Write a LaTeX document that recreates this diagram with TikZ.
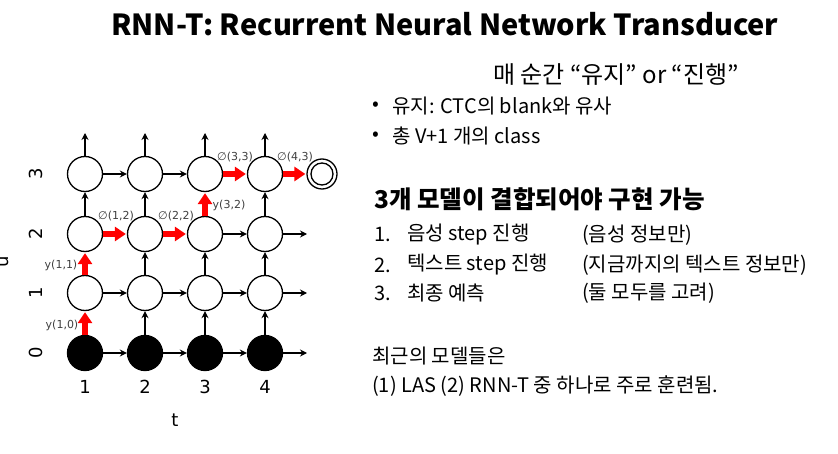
\documentclass[tikz,border=0pt]{standalone}
\usepackage{fontspec}
\setmainfont{Noto Sans CJK KR}
\newfontfamily\dv{DejaVu Sans}
\usetikzlibrary{arrows.meta}
\tikzset{
  cell/.style={circle,draw=black,line width=1.3pt,minimum size=35pt,inner sep=0pt,fill=white},
  blk/.style={cell,fill=black},
  harr/.style={-{Stealth[length=7pt,width=7pt]},line width=1.5pt,black},
  rarr/.style={-{Triangle[length=11pt,width=14pt]},line width=6.5pt,red,shorten >=1pt},
  lab/.style={font=\dv\fontsize{11}{13}\selectfont,text=black!75,inner sep=1pt},
  tick/.style={font=\dv\fontsize{18}{20}\selectfont},
  body/.style={anchor=west,inner sep=0pt,font=\fontsize{20}{24}\selectfont},
}
\begin{document}
\begin{tikzpicture}[x=1pt,y=-1pt]
\useasboundingbox[fill=white] (0,0) rectangle (838,454);
% title
\node[anchor=west,inner sep=0pt,font=\bfseries\fontsize{29}{34}\selectfont] (title) at (111,24) {RNN-T: Recurrent Neural Network Transducer};
% grid nodes
\foreach \c/\x in {1/85,2/145,3/205,4/265}{
  \node[blk] (n\c0) at (\x,353) {};
  \node[cell] (n\c1) at (\x,293) {};
  \node[cell] (n\c2) at (\x,234) {};
  \node[cell] (n\c3) at (\x,174) {};
  \coordinate (top\c) at (\x,133);
  \node[tick] (tk\c) at (\x,387) {\c};
}
\node[circle,draw,line width=1.3pt,minimum size=30pt,inner sep=0pt] (fin) at (322,174) {};
\node[circle,draw,line width=1.3pt,minimum size=22pt,inner sep=0pt] (fini) at (322,174) {};
\foreach \r/\y in {0/353,1/293,2/234}{\coordinate (out\r) at (307,\y);}
% row labels
\foreach \r/\y in {0/353,1/293,2/234,3/174}{\node[tick,rotate=90] (rl\r) at (36,\y) {\r};}
\node[tick,rotate=90] (ulab) at (4,262) {u};
\node[tick] (tlab) at (175,420) {t};
% vertical arrows
\draw[rarr] (n10) -- (n11);
\draw[rarr] (n11) -- (n12);
\draw[harr] (n12) -- (n13);
\draw[rarr] (n32) -- (n33);
\foreach \c in {2,3,4}{\draw[harr] (n\c0) -- (n\c1);\draw[harr] (n\c1) -- (n\c2);}
\draw[harr] (n22) -- (n23);
\draw[harr] (n42) -- (n43);
\foreach \c in {1,2,3,4}{\draw[harr] (n\c3) -- (top\c);}
% horizontal arrows
\foreach \r in {0,1}{
  \draw[harr] (n1\r) -- (n2\r); \draw[harr] (n2\r) -- (n3\r); \draw[harr] (n3\r) -- (n4\r); \draw[harr] (n4\r) -- (out\r);
}
\draw[rarr] (n12) -- (n22);
\draw[rarr] (n22) -- (n32);
\draw[harr] (n32) -- (n42);
\draw[harr] (n42) -- (out2);
\draw[harr] (n13) -- (n23);
\draw[harr] (n23) -- (n33);
\draw[rarr] (n33) -- (n43);
\draw[rarr] (n43) -- (fin);
% edge labels
\node[lab] (l10) at (62,325) {y(1,0)};
\node[lab] (l11) at (61,265) {y(1,1)};
\node[lab] (l12) at (116,216) {∅(1,2)};
\node[lab] (l22) at (176,216) {∅(2,2)};
\node[lab] (l32) at (229,205) {y(3,2)};
\node[lab] (l33) at (235,157) {∅(3,3)};
\node[lab] (l43) at (295,157) {∅(4,3)};
% right text
\node[anchor=west,inner sep=0pt,font=\fontsize{24}{28}\selectfont] (t1) at (493,75) {매 순간 “유지” or “진행”};
\node[body] (b1d) at (372,106) {•};
\node[body] (b1) at (392,106) {유지: CTC의 blank와 유사};
\node[body] (b2d) at (372,136) {•};
\node[body] (b2) at (392,136) {총 V+1 개의 class};
\node[anchor=west,inner sep=0pt,font=\bfseries\fontsize{24.5}{28}\selectfont] (h) at (374,199) {3개 모델이 결합되어야 구현 가능};
\node[body] (i1n) at (374,235) {1.};
\node[body] (i1) at (407,235) {음성 step 진행};
\node[body] (i1p) at (582,235) {(음성 정보만)};
\node[body] (i2n) at (374,265) {2.};
\node[body] (i2) at (407,265) {텍스트 step 진행};
\node[body] (i2p) at (582,265) {(지금까지의 텍스트 정보만)};
\node[body] (i3n) at (374,293) {3.};
\node[body] (i3) at (407,293) {최종 예측};
\node[body] (i3p) at (582,293) {(둘 모두를 고려)};
\node[body] (r1) at (372,356) {최근의 모델들은};
\node[body] (r2) at (372,386) {(1) LAS (2) RNN-T 중 하나로 주로 훈련됨.};
\end{tikzpicture}
\end{document}
